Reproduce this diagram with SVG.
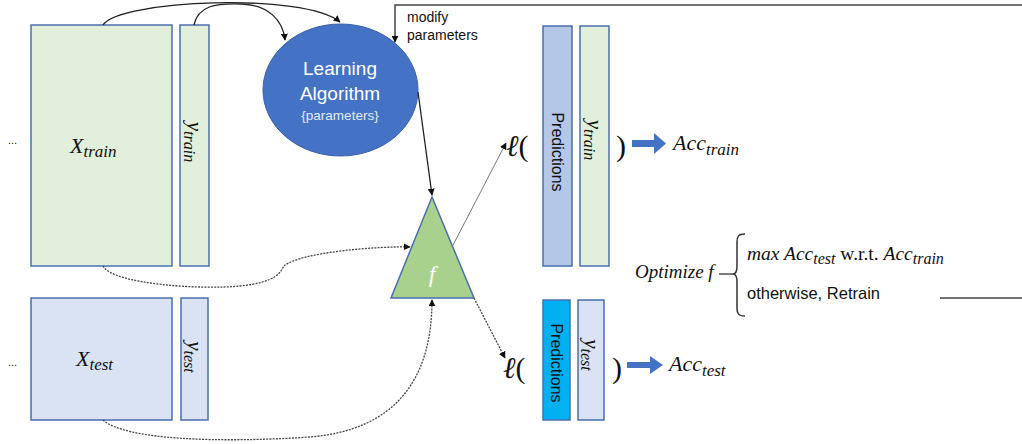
<svg xmlns="http://www.w3.org/2000/svg" width="1022" height="444" viewBox="0 0 1022 444">
<style>
.box{stroke:#4a6fb0;stroke-width:1.5}
.m{font-family:"Liberation Serif","DejaVu Serif",serif;font-style:italic;fill:#111}
.p{font-family:"Liberation Serif","DejaVu Serif",serif;fill:#111}
.s{font-family:"Liberation Sans","Open Sans",sans-serif;fill:#111}
.c{fill:none;stroke:#222;stroke-width:1.3}
.d{fill:none;stroke:#444;stroke-width:1.3;stroke-dasharray:2 1.2}
.g{fill:none;stroke:#777;stroke-width:1}
</style>
<defs>
<marker id="ah" viewBox="0 0 10 10" refX="9" refY="5" markerWidth="7" markerHeight="7" orient="auto" markerUnits="userSpaceOnUse"><path d="M0,0 L10,5 L0,10 z" fill="#111"/></marker>
</defs>
<rect width="1022" height="444" fill="#fff"/>

<g id="dots">
<text x="8" y="144" class="s" font-size="11">...</text>
<text x="8" y="366" class="s" font-size="11">...</text>
</g>

<g id="xtrain">
<rect class="box" x="31" y="25" width="141" height="241" fill="#e2efda"/>
<text class="m" x="70" y="153" font-size="22">X<tspan font-size="17" dy="4">train</tspan></text>
</g>
<g id="ytrain">
<rect class="box" x="180" y="25" width="29" height="241" fill="#e2efda"/>
<text class="m" transform="translate(188,142) rotate(90)" text-anchor="middle" font-size="21">y<tspan font-size="16" dy="4">train</tspan></text>
</g>
<g id="xtest">
<rect class="box" x="31" y="298" width="141" height="122" fill="#dae3f3"/>
<text class="m" x="76" y="366" font-size="22">X<tspan font-size="17" dy="4">test</tspan></text>
</g>
<g id="ytest">
<rect class="box" x="181" y="298" width="27" height="122" fill="#dae3f3"/>
<text class="m" transform="translate(188,357) rotate(90)" text-anchor="middle" font-size="21">y<tspan font-size="16" dy="4">test</tspan></text>
</g>

<g id="learning">
<ellipse cx="340.5" cy="90" rx="77.5" ry="66" fill="#4472c4" stroke="#3a62a8" stroke-width="1"/>
<text x="340" y="75" text-anchor="middle" class="s" font-size="19" style="fill:#fff">Learning</text>
<text x="340" y="100" text-anchor="middle" class="s" font-size="19" style="fill:#fff">Algorithm</text>
<text x="340" y="120" text-anchor="middle" class="s" font-size="13.5" style="fill:#e4ebf7">{parameters}</text>
</g>

<g id="f">
<polygon points="432,197 391,298 474,298" fill="#a9d18e" stroke="#4a6fb0" stroke-width="1.5"/>
<text x="432" y="282" text-anchor="middle" class="m" font-size="24" style="fill:#fff">f</text>
</g>

<g id="modify">
<text class="s" x="407" y="22" font-size="14">modify</text>
<text class="s" x="407" y="40" font-size="14">parameters</text>
</g>

<g id="losstrain">
<text class="m" x="506" y="156" font-size="30">ℓ<tspan class="p" font-style="normal">(</tspan></text>
<rect class="box" x="543" y="26" width="29" height="240" fill="#b4c7e7"/>
<text class="s" transform="translate(552,152) rotate(90)" text-anchor="middle" font-size="16">Predictions</text>
<rect class="box" x="580" y="26" width="29" height="240" fill="#e2efda"/>
<text class="m" transform="translate(588,140) rotate(90)" text-anchor="middle" font-size="21">y<tspan font-size="16" dy="4">train</tspan></text>
<text class="p" x="616" y="156" font-size="30">)</text>
<path d="M632,140 L654,140 L654,133 L666,143.5 L654,154 L654,147 L632,147 z" fill="#4472c4"/>
<text class="m" x="673" y="150" font-size="22">Acc<tspan font-size="17" dy="5">train</tspan></text>
</g>

<g id="losstest">
<text class="m" x="503" y="378" font-size="30">ℓ<tspan class="p" font-style="normal">(</tspan></text>
<rect class="box" x="543" y="300" width="27" height="120" fill="#00b0f0"/>
<text class="s" transform="translate(551,363) rotate(90)" text-anchor="middle" font-size="16">Predictions</text>
<rect class="box" x="578" y="300" width="26" height="120" fill="#dae3f3"/>
<text class="m" transform="translate(585,355) rotate(90)" text-anchor="middle" font-size="21">y<tspan font-size="16" dy="4">test</tspan></text>
<text class="p" x="612" y="378" font-size="30">)</text>
<path d="M627,362 L650,362 L650,356 L663,365 L650,374 L650,368 L627,368 z" fill="#4472c4"/>
<text class="m" x="669" y="371" font-size="22">Acc<tspan font-size="17" dy="5">test</tspan></text>
</g>

<g id="optimize">
<text class="m" x="635" y="278" font-size="19">Optimize f</text>
<path d="M719,274 L733,274" stroke="#222" stroke-width="1.2" fill="none"/>
<path d="M745,234 C738,234 737,237 737,242 L737,266 C737,272 735,274 733,274 C735,274 737,276 737,282 L737,308 C737,313 738,316 745,316" stroke="#333" stroke-width="1.5" fill="none"/>
<text class="m" x="747" y="260" font-size="19.5">max Acc<tspan font-size="16" dy="4">test</tspan><tspan dy="-4" font-style="normal"> w.r.t. </tspan>Acc<tspan font-size="16" dy="4">train</tspan></text>
<text class="s" x="747" y="299" font-size="16.5">otherwise, Retrain</text>
</g>

<g id="connectors">
<path class="c" d="M103,25 C118,0 305,-8 340,22" marker-end="url(#ah)"/>
<path class="c" d="M194,25 C198,6 215,3 242,4 C268,5 283,20 285,40" marker-end="url(#ah)"/>
<path class="c" d="M418,92 L432,195" marker-end="url(#ah)"/>
<path d="M1022,5 L395,5 L395,42" fill="none" stroke="#444" stroke-width="1.5" marker-end="url(#ah)"/>
<path d="M940,298 L1022,298" fill="none" stroke="#444" stroke-width="1.5"/>
<path class="d" d="M103,266 C112,284 200,290 240,286 C278,282 280,272 284,266 C300,252 380,246 410,247" marker-end="url(#ah)"/>
<path class="d" d="M103,420 C125,440 220,443 310,437 C395,430 432,380 432,300" marker-end="url(#ah)"/>
<path class="g" d="M452,247 L506,143" marker-end="url(#ah)"/>
<path class="d" d="M474,298 L505,358" marker-end="url(#ah)"/>
</g>
</svg>
